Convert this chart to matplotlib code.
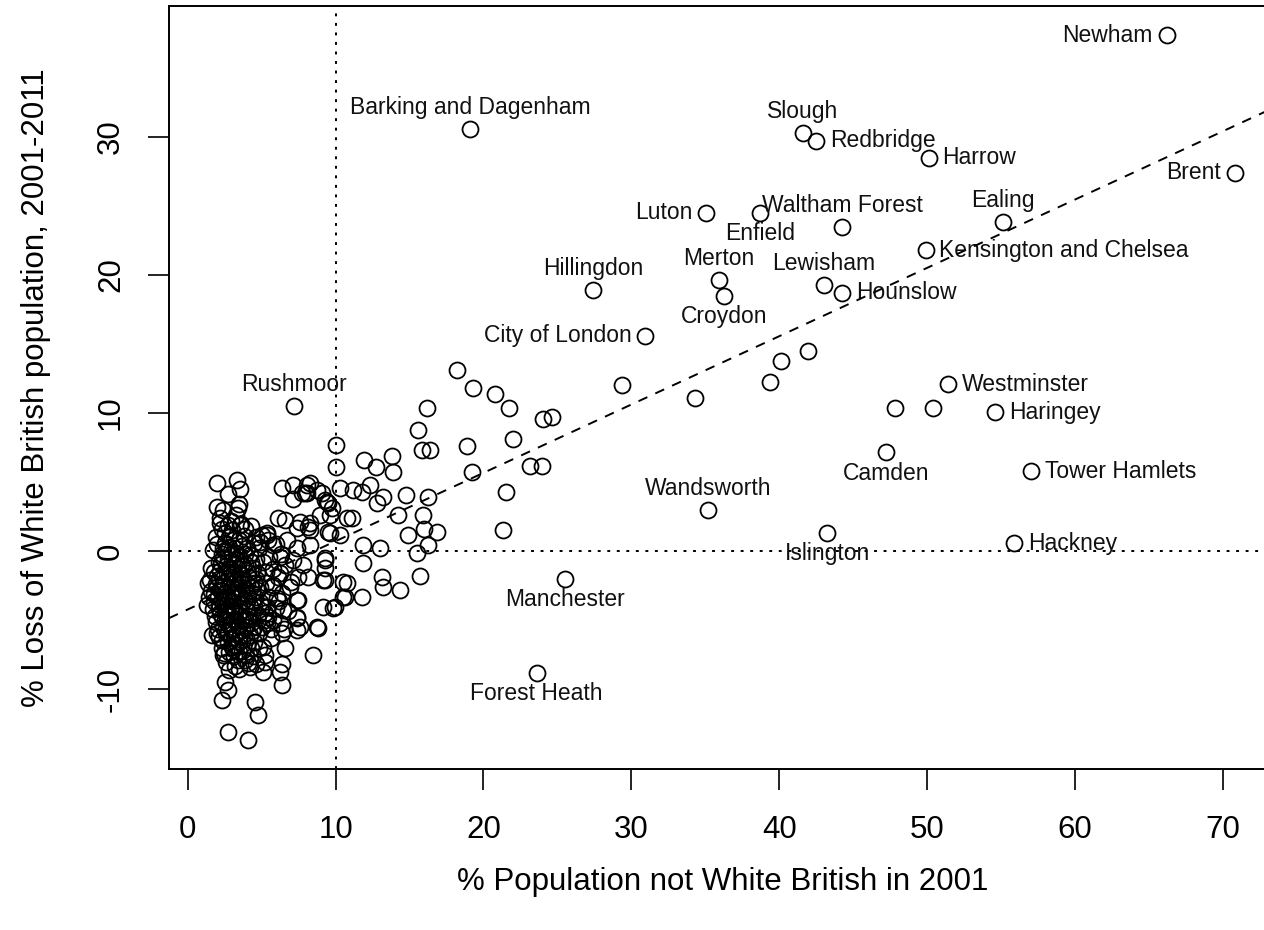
import matplotlib
matplotlib.use("Agg")
import matplotlib.pyplot as plt

plt.rcParams['font.family'] = ['Liberation Sans', 'DejaVu Sans']

#///////////////////////////////////////////////////////////////////////
# data
#///////////////////////////////////////////////////////////////////////

# labelled areas: % not White British 2001, % loss of White British 2001-2011
names = ["Newham", "Barking and Dagenham", "Slough", "Redbridge", "Harrow",
         "Brent", "Luton", "Enfield", "Waltham Forest", "Ealing",
         "Kensington and Chelsea", "Hillingdon", "Merton", "Croydon",
         "Lewisham", "Hounslow", "City of London", "Rushmoor", "Westminster",
         "Haringey", "Camden", "Tower Hamlets", "Wandsworth", "Islington",
         "Hackney", "Manchester", "Forest Heath"]
named_x = [66.2, 19.1, 41.6, 42.5, 50.1, 70.8, 35.05, 38.7, 44.25, 55.15,
           49.9, 27.4, 35.9, 36.3, 43.0, 44.25, 30.95, 7.2, 51.4, 54.6,
           47.2, 57.05, 35.2, 43.25, 55.9, 25.5, 23.6]
named_y = [37.35, 30.6, 30.3, 29.7, 28.5, 27.4, 24.5, 24.5, 23.5, 23.8,
           21.8, 18.9, 19.6, 18.5, 19.3, 18.7, 15.6, 10.5, 12.1, 10.05,
           7.15, 5.8, 2.98, 1.32, 0.59, -2.0, -8.8]
# R style text pos: 1 below, 2 left, 3 above, 4 right
label_pos = [2, 3, 3, 4, 4, 2, 2, 1, 3, 3,
             4, 3, 3, 1, 3, 4, 2, 3, 4, 4,
             1, 4, 3, 1, 4, 1, 1]

# the rest of the local authorities (unlabelled)
other_pts = [
    # middle of the plot
    (18.2, 13.1), (19.3, 11.8), (20.8, 11.4), (21.7, 10.4), (16.2, 10.4),
    (29.4, 12.0), (34.3, 11.1), (39.4, 12.25), (40.1, 13.8), (41.95, 14.5),
    (47.85, 10.35), (50.4, 10.35), (18.9, 7.6), (22.0, 8.1), (19.2, 5.7),
    (24.05, 9.6), (24.65, 9.7), (23.15, 6.15), (23.95, 6.15), (21.5, 4.3),
    (21.35, 1.5), (15.6, 8.8), (16.4, 7.35), (15.85, 7.3), (16.27, 3.92),
    (15.9, 2.6), (16.87, 1.4), (15.95, 1.6), (16.25, 0.45), (15.5, -0.1),
    (15.7, -1.8), (14.9, 1.2), (14.76, 4.07), (14.2, 2.6), (14.35, -2.8),
    # 8 to 14
    (10.0, 7.7), (10.0, 6.1), (11.95, 6.6), (12.76, 6.1), (13.84, 6.9),
    (13.9, 5.73), (12.33, 4.79), (13.2, 3.92), (12.8, 3.49), (10.3, 4.57),
    (11.18, 4.43), (11.79, 4.29), (8.07, 4.79), (8.07, 4.21), (8.75, 4.43),
    (9.42, 3.56), (9.76, 3.13), (8.94, 2.62), (10.77, 2.4), (11.11, 2.4),
    (8.14, 1.75), (9.62, 1.32), (11.86, 0.45), (13.0, 0.23), (11.86, -0.85),
    (9.28, -0.49), (9.28, -1.22), (10.77, -2.3), (13.14, -1.87), (13.2, -2.6),
    (10.64, -3.3), (11.79, -3.3), (9.15, -4.04), (9.82, -4.12), (8.75, -5.5),
    (9.15, -2.08), (8.81, -5.55), (7.46, -3.53), (7.39, -4.83), (8.47, -7.5),
    # 5 to 9
    (6.38, 4.57), (7.12, 4.79), (7.93, 4.21), (8.27, 4.92), (9.08, 4.21),
    (7.12, 3.78), (9.49, 3.49), (6.1, 2.4), (6.58, 2.26), (7.59, 2.11),
    (8.27, 2.04), (9.62, 2.6), (9.49, 1.38), (10.3, 1.16), (5.36, 1.3),
    (4.89, 0.67), (5.77, 0.45), (6.72, 0.81), (7.39, 0.23), (8.27, 0.45),
    (9.28, -0.64), (9.28, -2.08), (10.5, -2.23), (6.24, -0.42), (7.12, -0.64),
    (7.8, -1.0), (6.24, -1.59), (7.46, -1.87), (8.14, -1.87), (5.77, -2.45),
    (6.92, -2.6), (6.05, -3.42), (7.39, -3.55), (9.96, -4.04), (10.5, -3.3),
    (5.36, -4.04), (6.45, -4.26), (7.39, -4.77), (6.24, -5.2), (5.36, -5.2),
    (7.59, -5.5), (6.38, -5.93), (7.39, -5.72), (6.58, -7.0), (5.23, -8.0),
    (6.38, -8.2), (7.73, 4.21), (9.28, 3.7), (7.39, 1.68), (8.27, 1.53),
    # edges of the big cluster
    (1.98, 4.94), (3.33, 5.15), (3.54, 4.5), (2.73, 4.14), (1.98, 3.2),
    (2.39, 2.98), (3.4, 3.13), (2.18, 2.04), (3.54, 1.9), (5.36, 1.16),
    (1.37, -2.3), (1.3, -3.9), (1.64, -6.07), (2.39, -7.5), (4.08, -8.09),
    (5.23, -7.5), (6.24, -8.74), (6.38, -9.68), (5.09, -8.74), (2.53, -9.5),
    (2.73, -10.05), (2.32, -10.77), (4.55, -10.9), (4.75, -11.86),
    (2.73, -13.1), (4.08, -13.68),
    # dense core
    (2.2, 2.4), (2.9, 2.2), (3.6, 2.0), (4.3, 1.8), (5.0, 1.2),
    (1.9, 1.0), (2.5, 1.3), (3.1, 0.9), (3.8, 1.1), (4.5, 0.6), (5.4, 0.8), (6.0, 0.5),
    (1.7, 0.1), (2.3, -0.2), (2.8, 0.3), (3.3, -0.1), (3.7, 0.4), (4.2, -0.3),
    (4.8, 0.2), (5.5, -0.4), (6.3, -0.2),
    (1.6, -1.2), (2.1, -0.8), (2.6, -1.1), (3.0, -0.7), (3.4, -1.3), (3.9, -0.9),
    (4.4, -1.2), (5.1, -0.8), (5.8, -1.3), (6.6, -1.0),
    (1.5, -2.1), (2.0, -1.8), (2.4, -2.3), (2.8, -1.9), (3.2, -2.2), (3.6, -1.7),
    (4.0, -2.4), (4.6, -2.0), (5.3, -2.3), (6.1, -1.9), (7.0, -2.2),
    (1.8, -3.1), (2.2, -2.8), (2.6, -3.3), (3.0, -2.9), (3.3, -3.4), (3.7, -3.0),
    (4.1, -3.2), (4.7, -2.8), (5.5, -3.3), (6.4, -3.0),
    (1.7, -4.2), (2.1, -3.8), (2.5, -4.3), (2.9, -4.0), (3.2, -4.4), (3.6, -3.9),
    (4.0, -4.3), (4.5, -4.0), (5.2, -4.5), (6.0, -4.1), (6.8, -4.3),
    (1.9, -5.1), (2.3, -4.8), (2.7, -5.3), (3.1, -5.0), (3.5, -5.4), (3.9, -4.9),
    (4.3, -5.2), (5.0, -5.5), (5.8, -5.0),
    (2.1, -6.2), (2.5, -5.8), (2.9, -6.3), (3.3, -6.0), (3.7, -6.4), (4.2, -6.1),
    (4.8, -5.9), (5.6, -6.3),
    (2.3, -7.0), (2.8, -7.3), (3.2, -6.8), (3.7, -7.2), (4.3, -7.0), (5.1, -6.9),
    (2.6, -8.0), (3.2, -8.3), (3.9, -7.9), (4.6, -8.2),
    (2.5, 0.6), (3.0, 1.5), (3.3, 2.6), (2.0, 0.5), (3.5, 3.4), (2.7, 1.9),
    (2.4, -0.5), (2.9, -1.5), (3.5, -0.4), (4.1, -1.6), (2.7, -2.6), (3.4, -2.7),
    (4.3, -2.6), (2.3, -3.6), (3.0, -3.6), (3.8, -3.5), (4.4, -3.6), (2.6, -4.6),
    (3.4, -4.7), (4.1, -4.7), (2.4, -5.5), (3.0, -5.6), (3.7, -5.7), (4.5, -5.5),
    (2.7, -6.6), (3.5, -6.6), (4.0, -6.8), (3.1, -7.6), (2.0, -2.6), (1.8, -1.5),
    (4.7, -1.6), (4.9, -3.7), (5.3, -1.5), (5.7, -2.6), (6.2, -3.6), (5.4, -4.8),
    (6.5, -5.6), (3.2, 0.2), (3.9, -0.2), (2.6, 0.0), (4.6, -0.6), (2.2, -1.4),
    (3.1, -1.0), (3.7, -2.4), (2.5, -3.0), (3.5, -3.2), (2.8, -4.6), (3.6, -5.0),
    (2.2, -4.5), (4.2, -4.0), (3.0, -6.9), (3.4, -7.9),
    (2.25, -0.9), (2.75, -0.6), (3.25, -0.55), (3.75, -1.1), (4.25, -0.8),
    (2.15, -2.0), (2.65, -1.6), (3.15, -1.55), (3.55, -2.1), (4.05, -1.9),
    (4.45, -2.3), (2.35, -2.55), (2.85, -2.4), (3.35, -2.0), (3.85, -2.7),
    (4.35, -3.0), (2.05, -3.3), (2.45, -3.55), (2.95, -3.2), (3.45, -3.8),
    (3.95, -3.7), (4.55, -3.3), (2.15, -4.1), (2.65, -3.9), (3.05, -4.3),
    (3.55, -4.4), (4.05, -4.9), (4.75, -4.6), (2.05, -5.6), (2.55, -5.0),
    (2.95, -5.2), (3.35, -5.1), (3.85, -5.5), (4.35, -5.8), (2.35, -6.4),
    (2.75, -5.9), (3.15, -6.2), (3.55, -6.1), (3.95, -6.3), (4.5, -6.6),
    (2.45, -7.4), (3.05, -7.1), (3.45, -7.3), (3.95, -7.5), (4.4, -7.6),
    (1.9, -2.4), (1.75, -3.6), (1.6, -2.9), (1.45, -3.3), (1.85, -4.7),
    (1.95, -5.9), (2.8, -8.6), (3.5, -8.5), (4.2, -8.4), (3.0, -0.2),
    (3.5, 0.8), (2.4, 0.2), (4.0, 0.2), (2.85, -1.2), (3.6, -1.0),
    (4.9, -2.6), (5.0, -4.0), (5.2, -5.0), (4.8, -7.0), (5.6, -5.6),
    (2.3, 1.6), (2.8, 1.0), (3.9, 1.6), (4.6, 1.0),
]
other_x = [p[0] for p in other_pts]
other_y = [p[1] for p in other_pts]

# abline(lm(...)) coefficients
fit_intercept = -4.22
fit_slope = 0.4946

x_ticks = [0, 10, 20, 30, 40, 50, 60, 70]
y_ticks = [-10, 0, 10, 20, 30]

#///////////////////////////////////////////////////////////////////////
# figure
#///////////////////////////////////////////////////////////////////////
fig = plt.figure(figsize=(12.64, 9.3), dpi=100)
ax = fig.add_axes([0.1337, 0.1731, 0.8758, 0.8204])

mk = dict(marker='o', markersize=11.5, markerfacecolor='none',
          markeredgecolor='black', markeredgewidth=1.3, linestyle='none')
ax.plot(other_x, other_y, **mk)
ax.plot(named_x, named_y, **mk)

# reference lines
ax.axvline(10, color='black', lw=1.4, linestyle=(0, (1.5, 3.4)), zorder=1)
ax.axhline(0, color='black', lw=1.4, linestyle=(0, (1.5, 3.4)), zorder=1)
ax.axline((0, fit_intercept), slope=fit_slope, color='black', lw=1.4,
          linestyle=(0, (5, 4.5)), zorder=5)

# labels next to the points, same as text(..., pos=)
offsets = {1: ((0, -15), 'center', 'center'),
           2: ((-10, 0), 'right', 'center'),
           3: ((0, 15.5), 'center', 'center'),
           4: ((10, 0), 'left', 'center')}
for name, x, y, p in zip(names, named_x, named_y, label_pos):
    off, ha, va = offsets[p]
    ax.annotate(name, (x, y), xytext=off, textcoords='offset points',
                ha=ha, va=va, fontsize=16.5, color='#111111', zorder=3)

ax.set_xlim(-1.265, 73.6)
ax.set_ylim(-15.77, 39.47)
ax.set_xticks(x_ticks)
ax.set_yticks(y_ticks)
ax.set_xticklabels([str(t) for t in x_ticks])
ax.set_yticklabels([str(t) for t in y_ticks], rotation=90, va='center')
ax.tick_params(axis='both', length=15, width=1.4, labelsize=22.5, color='#222222')
ax.tick_params(axis='x', pad=18)
ax.tick_params(axis='y', pad=16)
for s in ax.spines.values():
    s.set_linewidth(1.4)

ax.set_xlabel('% Population not White British in 2001', fontsize=22.5)
ax.set_ylabel('% Loss of White British population, 2001-2011', fontsize=22.5)
ax.xaxis.set_label_coords(0.5, -0.148)
ax.xaxis.label.set_va('center')
ax.yaxis.set_label_coords(-0.1205, 0.5)
ax.yaxis.label.set_va('center')

fig.savefig('out.png', dpi=100)
